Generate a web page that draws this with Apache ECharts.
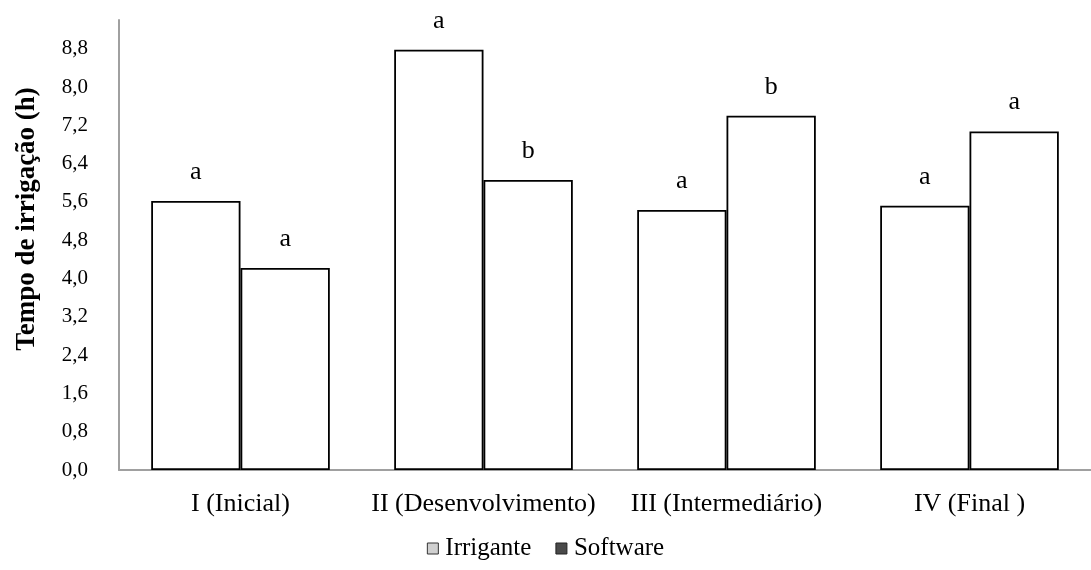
<!DOCTYPE html>
<html>
<head>
<meta charset="utf-8">
<script src="https://cdn.jsdelivr.net/npm/echarts@6/dist/echarts.min.js"></script>
<style>
  html, body { margin: 0; padding: 0; background: #fff; }
  #chart { width: 1091px; height: 570px; }
</style>
</head>
<body>
<div id="chart"></div>
<script>
const categories = ['I (Inicial)', 'II (Desenvolvimento)', 'III (Intermediário)', 'IV (Final )']
const irrigante = [5.62, 8.78, 5.43, 5.52]
const software = [4.22, 6.06, 7.40, 7.07]
const irriganteLetters = ['a', 'a', 'a', 'a']
const softwareLetters = ['a', 'b', 'b', 'a']

const font = 'Liberation Serif'

const barStyle = {
  color: '#fff',
  borderColor: '#000',
  borderWidth: 1.8
}

// letra de significância acima da barra
const letterLabel = letters => ({
  show: true,
  position: 'top',
  distance: 16,
  fontFamily: font,
  fontSize: 26,
  color: '#000',
  formatter: p => letters[p.dataIndex]
})

const chart = echarts.init(document.getElementById('chart'))

chart.setOption({
  animation: false,
  textStyle: { fontFamily: font, color: '#000' },
  grid: { left: 119, right: -4, top: 20, bottom: 100 },
  legend: {
    bottom: 4,
    left: 'center',
    itemWidth: 11,
    itemHeight: 11,
    itemGap: 24,
    textStyle: { fontFamily: font, fontSize: 25, color: '#000', padding: [0, 0, 0, 2] },
    data: [
      { name: 'Irrigante', icon: 'rect', itemStyle: { color: '#d0d0d0', borderColor: '#333', borderWidth: 1 } },
      { name: 'Software', icon: 'rect', itemStyle: { color: '#4a4a4a', borderColor: '#222', borderWidth: 1 } }
    ]
  },
  xAxis: {
    type: 'category',
    data: categories,
    axisLine: { lineStyle: { color: '#a0a0a0', width: 2 } },
    axisTick: { show: false },
    axisLabel: { fontFamily: font, fontSize: 26, color: '#000', margin: 21, interval: 0 }
  },
  yAxis: {
    type: 'value',
    min: 0,
    max: 9.4,
    interval: 0.8,
    name: 'Tempo de irrigação (h)',
    nameLocation: 'middle',
    nameGap: 78,
    nameTextStyle: {
      fontFamily: font,
      fontSize: 27,
      fontWeight: 'bold',
      color: '#000',
      padding: [0, 0, 0, 52]
    },
    axisLine: { show: true, lineStyle: { color: '#a0a0a0', width: 2 } },
    axisTick: { show: false },
    splitLine: { show: false },
    axisLabel: {
      fontFamily: font,
      fontSize: 21,
      color: '#000',
      margin: 31,
      showMaxLabel: false,
      formatter: v => v.toFixed(1).replace('.', ',')
    }
  },
  series: [
    {
      name: 'Irrigante',
      type: 'bar',
      data: irrigante,
      barGap: '0%',
      barCategoryGap: '26.5%',
      itemStyle: barStyle,
      label: letterLabel(irriganteLetters)
    },
    {
      name: 'Software',
      type: 'bar',
      data: software,
      itemStyle: barStyle,
      label: letterLabel(softwareLetters)
    }
  ]
})
</script>
</body>
</html>
